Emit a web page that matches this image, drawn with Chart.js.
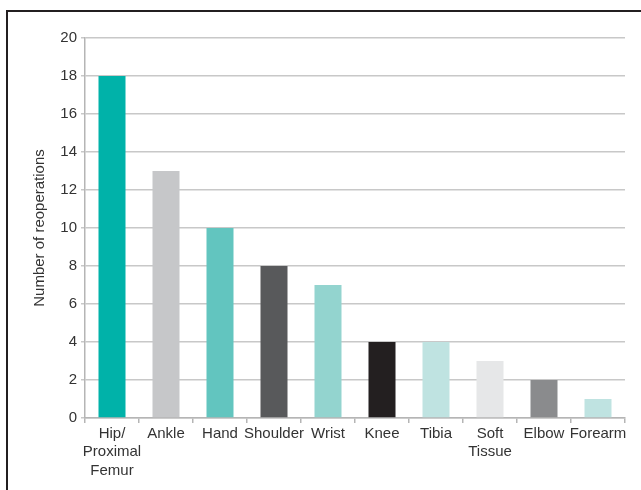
<!DOCTYPE html>
<html>
<head>
<meta charset="utf-8">
<script src="https://cdn.jsdelivr.net/npm/chart.js@4/dist/chart.umd.min.js"></script>
<style>
  html, body { margin: 0; padding: 0; background: #fff; overflow: hidden; }
  #wrap { position: relative; width: 641px; height: 490px; }
  #frame {
    position: absolute; left: 6px; top: 10px; width: 660px; height: 500px;
    border-left: 2px solid #231f20; border-top: 2px solid #231f20;
  }
  canvas { position: absolute; left: 0; top: 0; }
</style>
</head>
<body>
<div id="wrap">
  <canvas id="reopChart" width="641" height="490"></canvas>
  <div id="frame"></div>
</div>
<script>
// data
const sites = [
  ["Hip/", "Proximal", "Femur"],
  "Ankle",
  "Hand",
  "Shoulder",
  "Wrist",
  "Knee",
  "Tibia",
  ["Soft", "Tissue"],
  "Elbow",
  "Forearm",
];
const reoperations = [18, 13, 10, 8, 7, 4, 4, 3, 2, 1];
const barColors = [
  "#00b2a9", "#c6c7c9", "#62c5bf", "#58595b", "#93d4cf",
  "#231f20", "#bfe3e1", "#e6e7e8", "#8a8b8d", "#bfe3e1",
];
const yTicks = [0, 2, 4, 6, 8, 10, 12, 14, 16, 18, 20];

const ctx = document.getElementById("reopChart");

new Chart(ctx, {
  type: "bar",
  data: {
    labels: sites,
    datasets: [
      {
        label: "Number of reoperations",
        data: reoperations,
        backgroundColor: barColors,
        borderWidth: 0,
        barPercentage: 0.5,
        categoryPercentage: 1.0,
      },
    ],
  },
  options: {
    responsive: false,
    animation: false,
    devicePixelRatio: 1,
    layout: {
      padding: { top: 38, right: 16, bottom: 0, left: 0 },
    },
    plugins: {
      legend: { display: false },
      tooltip: { enabled: false },
    },
    scales: {
      x: {
        grid: {
          offset: true,
          drawOnChartArea: false,
          drawTicks: true,
          tickLength: 5,
          color: "#b5b5b5",
          lineWidth: 1.5,
        },
        border: { color: "#b5b5b5", width: 1.5 },
        ticks: {
          color: "#333333",
          padding: 1,
          maxRotation: 0,
          autoSkip: false,
          font: { family: "'Liberation Sans Narrow', 'Liberation Sans', Arial", size: 15, lineHeight: 1.25 },
        },
        afterFit: (scale) => {
          scale.height = 72;
        },
      },
      y: {
        min: 0,
        max: 20,
        afterBuildTicks: (scale) => {
          scale.ticks = yTicks.map((v) => ({ value: v }));
        },
        grid: {
          color: "#c8c8c8",
          lineWidth: 1.5,
          tickLength: 4,
        },
        border: { color: "#b5b5b5", width: 1.5 },
        ticks: {
          color: "#333333",
          padding: 4,
          font: { family: "'Liberation Sans', Arial", size: 15 },
        },
        title: {
          display: true,
          text: "Number of reoperations",
          color: "#333333",
          font: { family: "'Liberation Sans', Arial", size: 15 },
          padding: { top: 31, bottom: 0 },
        },
        afterFit: (scale) => {
          scale.width = 85;
        },
      },
    },
  },
});
</script>
</body>
</html>
